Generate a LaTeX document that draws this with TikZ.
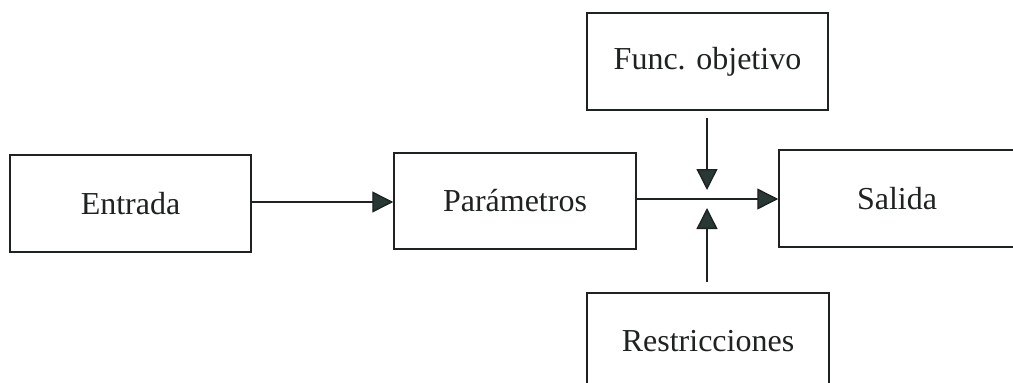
\documentclass[tikz,border=0pt]{standalone}
\usepackage{fontspec}
\setmainfont{Liberation Serif}
\usetikzlibrary{arrows.meta}
\definecolor{ink}{RGB}{30,34,33}
\definecolor{tipc}{RGB}{40,56,52}
\tikzset{
  blk/.style={draw=ink, line width=1.5pt, minimum width=241pt, minimum height=97pt, inner sep=0pt, font=\fontsize{32}{36}\selectfont, text=ink},
  conn/.style={draw=ink, line width=1.4pt, -{Triangle[length=21pt,width=21pt,fill=tipc]}}
}
\begin{document}
\begin{tikzpicture}[x=1pt,y=-1pt]
\useasboundingbox (0,0) rectangle (1013,383);
\clip (0,0) rectangle (1013,383);
\node[blk] (entrada) at (130.5,203.5) {Entrada};
\node[blk, minimum width=242pt, minimum height=96pt] (param) at (515,201) {Parámetros};
\node[blk, minimum width=236pt] (salida) at (897,198.5) {Salida};
\node[blk] (func) at (707.5,61.5) {Func. objetivo};
\node[blk, minimum width=242pt] (restr) at (708,341.5) {Restricciones};
\coordinate (j) at (707,199);
\draw[conn] (entrada.east |- 0,202) -- (param.west |- 0,202);
\draw[conn] (param.east |- j) -- (salida.west |- j);
\draw[conn, shorten <=7pt] (func.south -| j) -- ([yshift=9pt]j);
\draw[conn, shorten <=10pt] (restr.north -| j) -- ([yshift=-9pt]j);
\end{tikzpicture}
\end{document}
